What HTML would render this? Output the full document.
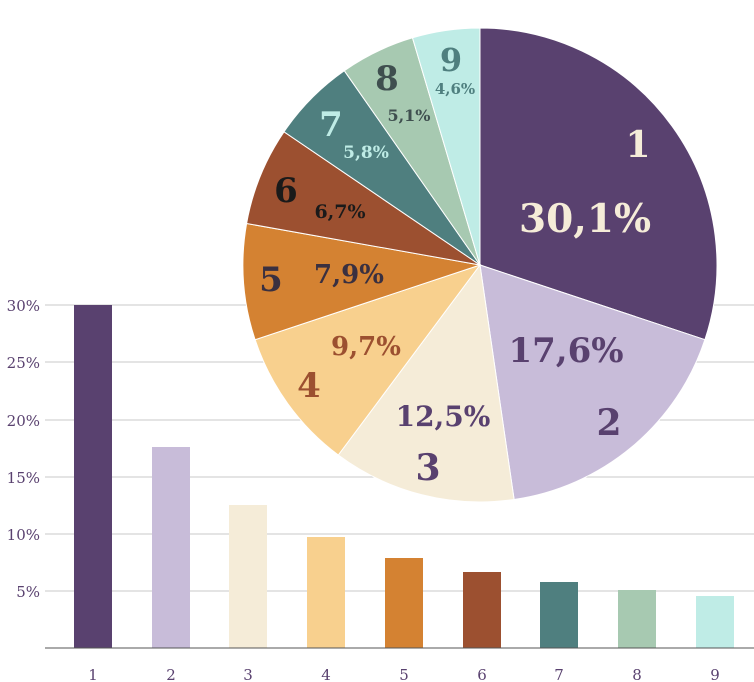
<!DOCTYPE html>
<html><head><meta charset="utf-8"><style>
html,body{margin:0;padding:0;background:#fff;}
svg{display:block;font-family:"DejaVu Serif","Liberation Serif",serif;}
</style></head><body>
<svg width="754" height="682" viewBox="0 0 754 682">
<g stroke="#c8c8c8" stroke-width="1">
<line x1="45" y1="305" x2="754" y2="305"/>
<line x1="45" y1="362" x2="754" y2="362"/>
<line x1="45" y1="420" x2="754" y2="420"/>
<line x1="45" y1="477" x2="754" y2="477"/>
<line x1="45" y1="534" x2="754" y2="534"/>
<line x1="45" y1="591" x2="754" y2="591"/>
</g>
<g fill="#59416f" font-size="15" text-anchor="end">
<text x="40" y="311">30%</text><text x="40" y="368">25%</text><text x="40" y="426">20%</text>
<text x="40" y="483">15%</text><text x="40" y="540">10%</text><text x="40" y="597">5%</text>
</g>
<rect x="74" y="305" width="38" height="343" fill="#59416f"/>
<rect x="152" y="447" width="38" height="201" fill="#c8bcd9"/>
<rect x="229" y="505" width="38" height="143" fill="#f5ecd8"/>
<rect x="307" y="537" width="38" height="111" fill="#f8d08e"/>
<rect x="385" y="558" width="38" height="90" fill="#d48232"/>
<rect x="463" y="572" width="38" height="76" fill="#9c5030"/>
<rect x="540" y="582" width="38" height="66" fill="#4f7f7f"/>
<rect x="618" y="590" width="38" height="58" fill="#a7c9b1"/>
<rect x="696" y="596" width="38" height="52" fill="#bfece6"/>
<line x1="45" y1="648" x2="754" y2="648" stroke="#555" stroke-width="1"/>
<g fill="#59416f" font-size="15" text-anchor="middle">
<text x="93" y="680">1</text><text x="171" y="680">2</text><text x="248" y="680">3</text>
<text x="326" y="680">4</text><text x="404" y="680">5</text><text x="482" y="680">6</text>
<text x="559" y="680">7</text><text x="637" y="680">8</text><text x="715" y="680">9</text>
</g>
<g stroke="#fff" stroke-width="1">
<path d="M480,265 L480,28 A237,237 0 0 1 704.9,339.7 Z" fill="#59416f"/>
<path d="M480,265 L704.9,339.7 A237,237 0 0 1 514.1,499.5 Z" fill="#c8bcd9"/>
<path d="M480,265 L514.1,499.5 A237,237 0 0 1 338.3,455 Z" fill="#f5ecd8"/>
<path d="M480,265 L338.3,455 A237,237 0 0 1 255.1,339.7 Z" fill="#f8d08e"/>
<path d="M480,265 L255.1,339.7 A237,237 0 0 1 246.6,223.5 Z" fill="#d48232"/>
<path d="M480,265 L246.6,223.5 A237,237 0 0 1 284,131.8 Z" fill="#9c5030"/>
<path d="M480,265 L284,131.8 A237,237 0 0 1 344.3,70.7 Z" fill="#4f7f7f"/>
<path d="M480,265 L344.3,70.7 A237,237 0 0 1 412.5,37.8 Z" fill="#a7c9b1"/>
<path d="M480,265 L412.5,37.8 A237,237 0 0 1 480,28 Z" fill="#bfece6"/>
</g>
<g font-weight="bold" text-anchor="middle">
<text x="638" y="157" font-size="36" fill="#f5ecd8">1</text>
<text x="585" y="232" font-size="39" fill="#f5ecd8">30,1%</text>
<text x="566" y="362" font-size="34" fill="#59416f">17,6%</text>
<text x="609" y="435" font-size="36" fill="#59416f">2</text>
<text x="443" y="426" font-size="28" fill="#59416f">12,5%</text>
<text x="428" y="480" font-size="36" fill="#59416f">3</text>
<text x="366" y="355" font-size="26" fill="#9c5030">9,7%</text>
<text x="309" y="397" font-size="34" fill="#9c5030">4</text>
<text x="349" y="283" font-size="26" fill="#3a3040">7,9%</text>
<text x="271" y="291" font-size="34" fill="#3a3040">5</text>
<text x="340" y="218" font-size="19" fill="#1a1a1a">6,7%</text>
<text x="286" y="202" font-size="34" fill="#1a1a1a">6</text>
<text x="366" y="158" font-size="17" fill="#bfece6">5,8%</text>
<text x="331" y="136" font-size="34" fill="#bfece6">7</text>
<text x="409" y="121" font-size="16" fill="#3f4f4f">5,1%</text>
<text x="387" y="90" font-size="34" fill="#3f4f4f">8</text>
<text x="455" y="94" font-size="15" fill="#4f7f7f">4,6%</text>
<text x="451" y="71" font-size="32" fill="#4f7f7f">9</text>
</g>
</svg>
</body></html>
